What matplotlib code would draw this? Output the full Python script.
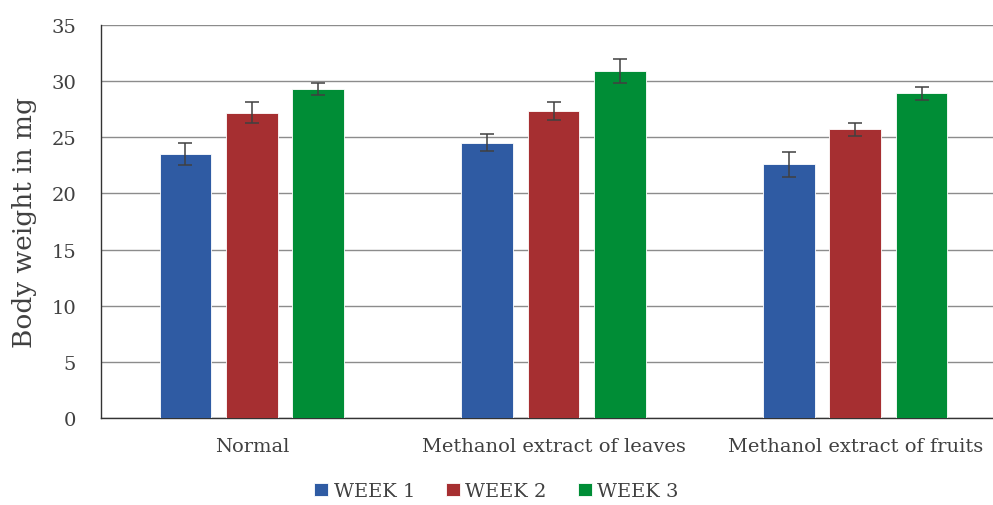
import matplotlib

matplotlib.use("Agg")
import matplotlib.pyplot as plt
import numpy as np

plt.rcParams["font.family"] = ["DejaVu Serif", "Liberation Serif"]

categories = ["Normal", "Methanol extract of leaves", "Methanol extract of fruits"]
series = ["WEEK 1", "WEEK 2", "WEEK 3"]
week1 = [23.5, 24.5, 22.6]
week2 = [27.2, 27.3, 25.7]
week3 = [29.3, 30.9, 28.9]
err1 = [1.0, 0.75, 1.1]
err2 = [0.9, 0.8, 0.6]
err3 = [0.5, 1.1, 0.6]

colors = ["#2F5BA3", "#A62F31", "#008D36"]

fig = plt.figure(figsize=(9.93, 5.06), dpi=100)
ax = fig.add_axes([101 / 993, 1 - 419 / 506, 905 / 993, 393 / 506])

x = np.arange(len(categories))
width = 0.172
step = 0.22
for i, (vals, errs, name) in enumerate(zip([week1, week2, week3], [err1, err2, err3], series)):
    ax.bar(x + (i - 1) * step, vals, width, color=colors[i], label=name,
           edgecolor="white", linewidth=0.6,
           yerr=errs, error_kw=dict(ecolor="#404040", elinewidth=1.1, capsize=5, capthick=1.1),
           zorder=3)

ax.set_xlim(-0.5, 2.5)
ax.set_ylim(0, 35)
ax.set_yticks(np.arange(0, 36, 5))
ax.set_xticks(x)
ax.set_xticklabels(categories)
ax.yaxis.grid(True, color="#8c8c8c", linewidth=1.0, zorder=0)
ax.set_axisbelow(True)
for s in ["top", "right"]:
    ax.spines[s].set_visible(False)
for s in ["left", "bottom"]:
    ax.spines[s].set_color("#333333")
    ax.spines[s].set_linewidth(1.0)
ax.tick_params(axis="both", length=0, colors="#404040")
ax.tick_params(axis="y", pad=18, labelsize=14)
ax.tick_params(axis="x", pad=14, labelsize=14)
ax.set_ylabel("Body weight in mg", fontsize=19, color="#404040", labelpad=10)

fig.legend(loc="lower center", bbox_to_anchor=(0.5, -0.025), ncol=3, frameon=False,
           fontsize=14, handlelength=0.7, handleheight=0.7, handletextpad=0.3,
           columnspacing=1.6, labelcolor="#404040")

fig.savefig("out.png", dpi=100)
